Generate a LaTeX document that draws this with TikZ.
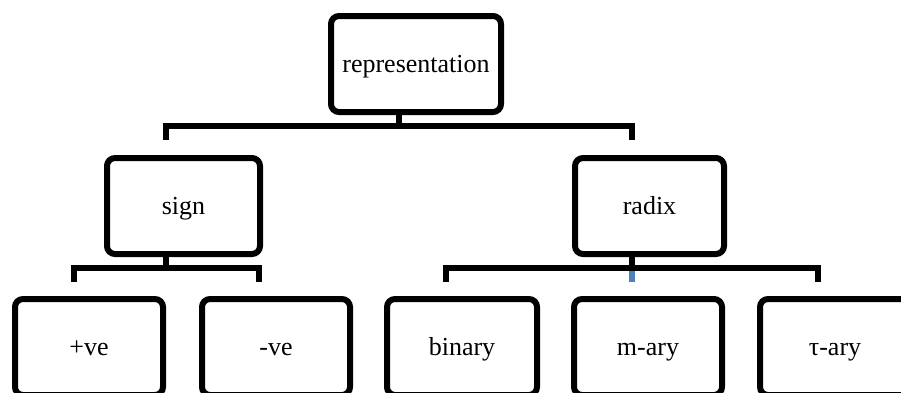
\documentclass[tikz,border=0pt]{standalone}
\usepackage{fontspec}
\setmainfont{Liberation Serif}
\definecolor{bleu}{RGB}{79,129,189}
\tikzset{
  boite/.style={draw, line width=6pt, rounded corners=8pt, fill=white,
                minimum height=96pt, inner sep=0pt,
                text height=20pt, text depth=3pt,
                font=\fontsize{26}{30}\selectfont},
  lien/.style={line width=6pt},
}
\begin{document}
\begin{tikzpicture}[x=1pt,y=-1pt]
\useasboundingbox (0,0) rectangle (901,392);
\clip (0,0) rectangle (901,392);
%
% Racine
\node [boite, minimum width=170pt] (rep) at (416,64) {representation};
%
% Premier niveau
\node [boite, minimum width=153pt] (sign)  at (183.5,206) {sign};
\node [boite, minimum width=149pt] (radix) at (649.5,206) {radix};
%
% Second niveau
\node [boite, minimum width=148pt] (plus)   at (89,347)  {+ve};
\node [boite, minimum width=148pt] (moins)  at (276,347) {-ve};
\node [boite, minimum width=150pt] (binary) at (462,347) {binary};
\node [boite, minimum width=148pt] (mary)   at (648,347) {m-ary};
\node [boite, minimum width=150pt] (tary)   at (835,347) {τ-ary};
%
% Accolade racine
\coordinate (rep-j) at (399,126);
\coordinate (rep-l) at (166,140);
\coordinate (rep-r) at (632,140);
\draw [lien] (rep.south -| rep-j) -- (rep-j);
\draw [lien] (rep-l) -- (rep-l |- rep-j) -- (rep-r |- rep-j) -- (rep-r);
%
% Accolade sign
\coordinate (sign-j) at (166,268);
\coordinate (sign-l) at (74,282);
\coordinate (sign-r) at (259,282);
\draw [lien] (sign.south -| sign-j) -- (sign-j);
\draw [lien] (sign-l) -- (sign-l |- sign-j) -- (sign-r |- sign-j) -- (sign-r);
%
% Accolade radix
\coordinate (radix-j) at (632,268);
\coordinate (radix-b) at (632,282);
\coordinate (radix-l) at (446,282);
\coordinate (radix-r) at (818,282);
\draw [lien, bleu] (radix-j) -- (radix-b);
\draw [lien] (radix.south -| radix-j) -- (radix-j);
\draw [lien] (radix-l) -- (radix-l |- radix-j) -- (radix-r |- radix-j) -- (radix-r);
%
\end{tikzpicture}
\end{document}
